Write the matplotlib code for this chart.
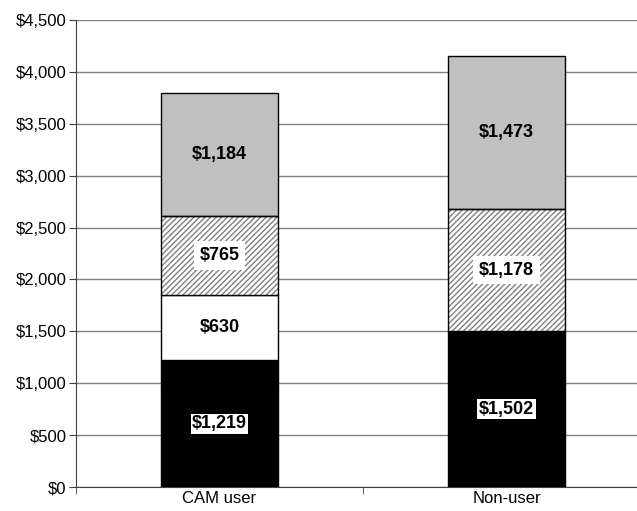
import matplotlib
matplotlib.use("Agg")
import matplotlib.pyplot as plt
import numpy as np
from matplotlib.ticker import FuncFormatter, FixedLocator

categories = ["CAM user", "Non-user"]
black_vals = [1219, 1502]
white_vals = [630, 0]
hatch_vals = [765, 1178]
gray_vals = [1184, 1473]
yticks = [0, 500, 1000, 1500, 2000, 2500, 3000, 3500, 4000, 4500]

plt.rcParams['font.family'] = ['Liberation Sans', 'DejaVu Sans']
plt.rcParams['hatch.linewidth'] = 1.0

fig = plt.figure(figsize=(6.37, 5.11), dpi=100)
ax = fig.add_axes([76/637, 24/511, 574/637, 467/511])

x = np.arange(len(categories))
w = 0.41
series = [
    (black_vals, "black", None, 1.0),
    (white_vals, "white", None, None),
    (hatch_vals, "white", "//////", 4.0),
    (gray_vals, "#c0c0c0", None, None),
]
bottom = np.zeros(len(categories))
for vals, fc, hatch, pad in series:
    vals = np.array(vals, dtype=float)
    if hatch:
        ax.bar(x, vals, w, bottom=bottom, color=fc, hatch=hatch,
               edgecolor="#808080", linewidth=0, zorder=3)
        ax.bar(x, vals, w, bottom=bottom, facecolor="none",
               edgecolor="black", linewidth=1.0, zorder=4)
    else:
        ax.bar(x, vals, w, bottom=bottom, color=fc,
               edgecolor="black", linewidth=1.0, zorder=3)
    for i, v in enumerate(vals):
        if v > 0:
            bbox = dict(facecolor="white", edgecolor="none", pad=pad) if pad else None
            ax.text(x[i], bottom[i] + v / 2, f"${int(v):,}", ha="center",
                    va="center", fontsize=13, fontweight="bold", zorder=5,
                    bbox=bbox)
    bottom += vals

ax.set_ylim(0, 4500)
ax.set_xlim(-0.5, 1.5)
ax.yaxis.set_major_locator(FixedLocator(yticks))
ax.yaxis.set_major_formatter(FuncFormatter(lambda v, p: f"${int(v):,}"))
ax.grid(axis="y", color="#808080", linewidth=1.0, zorder=0)
ax.set_axisbelow(True)

ax.set_xticks(x)
ax.set_xticklabels(categories, fontsize=12)
ax.tick_params(axis="x", which="major", length=0, pad=3)
ax.set_xticks([-0.5, 0.5, 1.5], minor=True)
ax.tick_params(axis="x", which="minor", length=5, direction="out", color="#404040")
ax.tick_params(axis="y", labelsize=12, length=5, direction="out", color="#404040", pad=2)

for s in ["top", "right"]:
    ax.spines[s].set_visible(False)
ax.spines["left"].set_color("#404040")
ax.spines["bottom"].set_color("#404040")

fig.savefig("out.png", dpi=100)
